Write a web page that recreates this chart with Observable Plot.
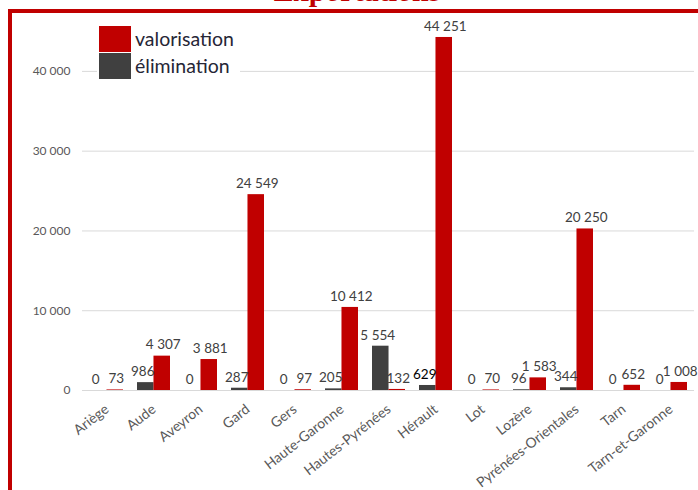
<!DOCTYPE html>
<html>
<head>
<meta charset="utf-8">
<script src="https://cdn.jsdelivr.net/npm/d3@7"></script>
<script src="https://cdn.jsdelivr.net/npm/@observablehq/plot@0.6"></script>
<style>
  body { margin: 0; background: #fff; }
  #wrap { position: relative; width: 698px; height: 490px; overflow: hidden; background: #fff; }
  #title { position: absolute; left: 0; width: 714px; top: -24px; text-align: center;
           font: bold 30px/30px "Liberation Serif", serif; color: #c00000; }
  #border { position: absolute; left: 8px; top: 9px; width: 720px; height: 600px;
            border: 4px solid #c00000; }
  #chart { position: absolute; left: 0; top: 0; }
  #legend { position: absolute; left: 97px; top: 24px; background: #fff; padding: 1px 6px 1px 2px;
            font-family: Lato, sans-serif; font-size: 19.5px; color: #262636; }
  .li { display: flex; align-items: center; height: 27px; }
  .sw { width: 32px; height: 26px; margin-right: 4px; }
</style>
</head>
<body>
<div id="wrap">
  <div id="title">Exportations</div>
  <div id="chart"></div>
  <div id="border"></div>
  <div id="legend"></div>
</div>
<script>
const departements = ["Ariège","Aude","Aveyron","Gard","Gers","Haute-Garonne","Hautes-Pyrénées","Hérault","Lot","Lozère","Pyrénées-Orientales","Tarn","Tarn-et-Garonne"];
const series = ["élimination","valorisation"];
const elimination = [0,986,0,287,0,205,5554,629,0,96,344,0,0];
const valorisation = [73,4307,3881,24549,97,10412,132,44251,70,1583,20250,652,1008];
const yTicks = [0,10000,20000,30000,40000];
const colors = ["#404040","#c00000"];

const locale = d3.formatLocale({decimal: ",", thousands: "\u00a0", grouping: [3], currency: ["", " €"]});
const fmt = locale.format(",d");

const elimData = departements.map((d, i) => ({dep: d, serie: series[0], v: elimination[i]}));
const valoData = departements.map((d, i) => ({dep: d, serie: series[1], v: valorisation[i]}));

const W = 698, H = 490, mL = 82, mR = 4, mT = 31, mB = 100;
const step = (W - mL - mR) / departements.length;
const half = step * 0.7 / 2;

const chart = Plot.plot({
  width: W, height: H,
  marginLeft: mL, marginRight: mR, marginTop: mT, marginBottom: mB,
  style: {fontFamily: "Lato, sans-serif", background: "transparent", color: "#595959"},
  x: {domain: departements, paddingInner: 0.3, paddingOuter: 0.15, label: null},
  y: {domain: [0, 45000], label: null},
  marks: [
    Plot.ruleY(yTicks, {stroke: "#d9d9d9", strokeWidth: 1}),
    Plot.barY(elimData, {x: "dep", y: "v", fill: colors[0], insetRight: half}),
    Plot.barY(valoData, {x: "dep", y: "v", fill: colors[1], insetLeft: half}),
    Plot.text(elimData, {x: "dep", y: "v", text: d => fmt(d.v), dx: -half / 2 - 3, dy: -11,
      fill: d => d.dep === "Hérault" ? "#000" : "#404040", fontSize: 13.5}),
    Plot.text(valoData, {x: "dep", y: "v", text: d => fmt(d.v), dx: half / 2 + 1, dy: -11,
      fill: "#404040", fontSize: 13.5}),
    Plot.axisY(yTicks, {tickSize: 0, tickPadding: 12, tickFormat: fmt, fontSize: 12, label: null}),
    Plot.axisX({tickSize: 0, tickPadding: 17, tickRotate: -38, fontSize: 14, label: null})
  ]
});
document.getElementById("chart").append(chart);

const legend = document.getElementById("legend");
[[series[1], colors[1]], [series[0], colors[0]]].forEach(([name, c]) => {
  const row = document.createElement("div");
  row.className = "li";
  row.innerHTML = `<div class="sw" style="background:${c}"></div><span>${name}</span>`;
  legend.append(row);
});
</script>
</body>
</html>
